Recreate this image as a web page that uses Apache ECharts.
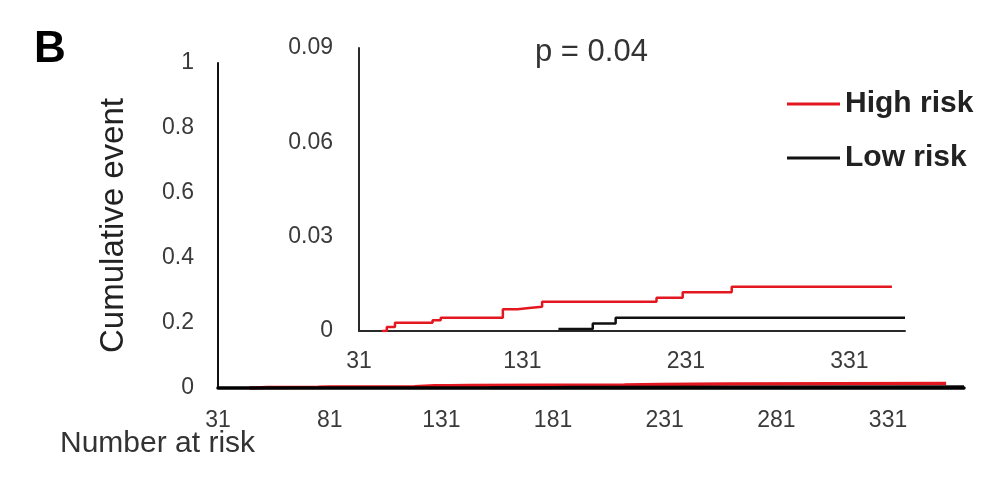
<!DOCTYPE html>
<html>
<head>
<meta charset="utf-8">
<script src="https://cdn.jsdelivr.net/npm/echarts@6/dist/echarts.min.js"></script>
<style>
  html, body { margin: 0; padding: 0; background: #fff; }
  #chart { width: 1000px; height: 481px; }
</style>
</head>
<body>
<div id="chart"></div>
<script>
// Cumulative event curves (step functions): event day and cumulative incidence
const highRiskDays = [45, 48, 53, 76, 81, 119, 128, 135, 143, 213, 229, 259, 357];
const highRiskCum  = [0, 0.0013, 0.0026, 0.0034, 0.0042, 0.0069, 0.0073, 0.0077, 0.0093, 0.0106, 0.0123, 0.0141, 0.0141];
const lowRiskDays  = [153, 174, 188, 365];
const lowRiskCum   = [0.0006, 0.0024, 0.0042, 0.0042];

// Axis ticks
const mainXTicks  = [31, 81, 131, 181, 231, 281, 331];
const insetXTicks = [31, 131, 231, 331];
const mainYTicks  = [0, 0.2, 0.4, 0.6, 0.8, 1];
const insetYTicks = [0, 0.03, 0.06, 0.09];

const seriesNames = ['High risk', 'Low risk'];
const pValueText = 'p = 0.04';

const FONT = 'Liberation Sans, Arial, sans-serif';
const RED = '#e3171f';
const BLACK = '#111111';

function pairs(xs, ys) { return xs.map((x, i) => [x, ys[i]]); }
const highData = pairs(highRiskDays, highRiskCum);
const lowData = pairs(lowRiskDays, lowRiskCum);

const tickLabel = { fontFamily: FONT, fontSize: 23, color: '#3a3a3a' };

const chart = echarts.init(document.getElementById('chart'), null, { renderer: 'canvas' });

chart.setOption({
  animation: false,
  backgroundColor: '#ffffff',
  grid: [
    { left: 218, top: 63, width: 746, height: 325 },
    { left: 359, top: 48, width: 546, height: 283 }
  ],
  xAxis: [
    {
      type: 'value', gridIndex: 0, min: 31, max: 365, z: 5,
      axisLine: { show: true, lineStyle: { color: '#000', width: 3.5 } },
      axisTick: { show: false },
      splitLine: { show: false },
      axisLabel: Object.assign({ customValues: mainXTicks, margin: 21 }, tickLabel)
    },
    {
      type: 'value', gridIndex: 1, min: 31, max: 365,
      axisLine: { show: true, lineStyle: { color: '#2a2a2a', width: 2 } },
      axisTick: { show: false },
      splitLine: { show: false },
      axisLabel: Object.assign({ customValues: insetXTicks, margin: 19 }, tickLabel)
    }
  ],
  yAxis: [
    {
      type: 'value', gridIndex: 0, min: 0, max: 1,
      axisLine: { show: true, lineStyle: { color: '#111', width: 2 } },
      axisTick: { show: false },
      splitLine: { show: false },
      axisLabel: Object.assign({ customValues: mainYTicks, margin: 24 }, tickLabel),
      name: 'Cumulative event',
      nameLocation: 'middle',
      nameRotate: 90,
      nameGap: 88,
      nameTextStyle: { fontFamily: FONT, fontSize: 33, color: '#222' }
    },
    {
      type: 'value', gridIndex: 1, min: 0, max: 0.09,
      axisLine: { show: true, lineStyle: { color: '#2a2a2a', width: 2 } },
      axisTick: { show: false },
      splitLine: { show: false },
      axisLabel: Object.assign({
        customValues: insetYTicks, margin: 26,
        formatter: v => String(+v.toFixed(2))
      }, tickLabel)
    }
  ],
  legend: {
    data: seriesNames,
    orient: 'vertical',
    left: 782,
    top: 84,
    icon: 'rect',
    itemWidth: 53,
    itemHeight: 3,
    itemGap: 24,
    textStyle: { fontFamily: FONT, fontSize: 30, fontWeight: 'bold', color: '#222' }
  },
  graphic: [
    { type: 'text', left: 34, top: 28,
      style: { text: 'B', fontFamily: FONT, fontSize: 44, fontWeight: 'bold', fill: '#000' } },
    { type: 'text', left: 535, top: 37,
      style: { text: pValueText, fontFamily: FONT, fontSize: 31, fill: '#333' } },
    { type: 'text', left: 60, top: 429,
      style: { text: 'Number at risk', fontFamily: FONT, fontSize: 30, fill: '#333' } }
  ],
  series: [
    { name: seriesNames[0], type: 'line', xAxisIndex: 0, yAxisIndex: 0, data: highData,
      step: 'end', showSymbol: false, lineStyle: { color: RED, width: 3.5 }, itemStyle: { color: RED } },
    { name: seriesNames[1], type: 'line', xAxisIndex: 0, yAxisIndex: 0, data: lowData,
      step: 'end', showSymbol: false, lineStyle: { color: BLACK, width: 3 }, itemStyle: { color: BLACK } },
    { name: seriesNames[0], type: 'line', xAxisIndex: 1, yAxisIndex: 1, data: highData,
      step: 'end', showSymbol: false, lineStyle: { color: RED, width: 2.5 }, itemStyle: { color: RED } },
    { name: seriesNames[1], type: 'line', xAxisIndex: 1, yAxisIndex: 1, data: lowData,
      step: 'end', showSymbol: false, lineStyle: { color: BLACK, width: 2.5 }, itemStyle: { color: BLACK } }
  ]
});
</script>
</body>
</html>
